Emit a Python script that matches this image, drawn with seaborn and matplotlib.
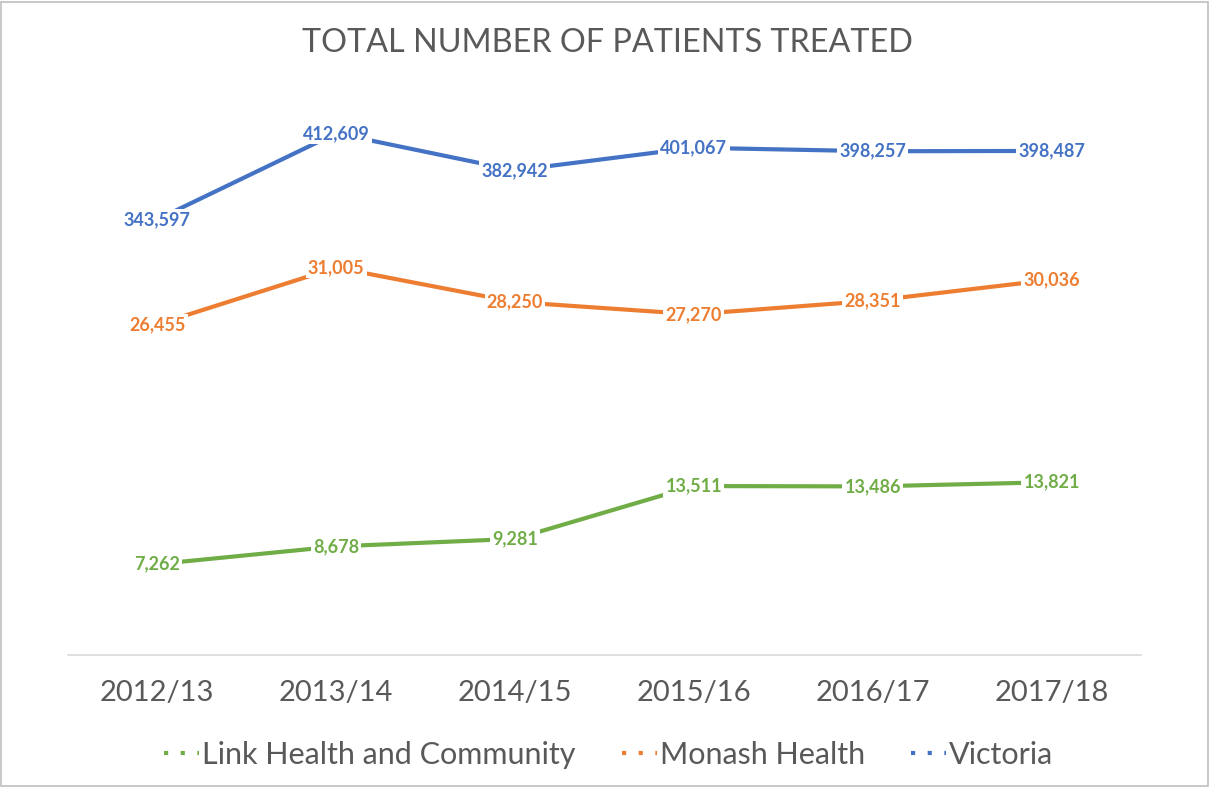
import matplotlib
matplotlib.use("Agg")
import matplotlib.pyplot as plt
from matplotlib.lines import Line2D
from matplotlib.patches import Rectangle
import seaborn as sns

# ---- data ----
years = ["2012/13", "2013/14", "2014/15", "2015/16", "2016/17", "2017/18"]
link = [7262, 8678, 9281, 13511, 13486, 13821]
monash = [26455, 31005, 28250, 27270, 28351, 30036]
victoria = [343597, 412609, 382942, 401067, 398257, 398487]

GREEN = "#70AD47"
ORANGE = "#ED7D31"
BLUE = "#4472C4"
GREY = "#595959"

sns.set_style("white")
plt.rcParams["font.family"] = ["Lato", "DejaVu Sans"]

fig = plt.figure(figsize=(12.1, 7.87), dpi=100)
ax = fig.add_axes([0.056, 0.168, 0.887, 0.714])
ax2 = ax.twinx()

sns.lineplot(x=years, y=link, ax=ax, color=GREEN, linewidth=3, sort=False)
sns.lineplot(x=years, y=monash, ax=ax, color=ORANGE, linewidth=3, sort=False)
# Victoria is on its own (secondary) scale
sns.lineplot(x=years, y=victoria, ax=ax2, color=BLUE, linewidth=3, sort=False)

ax.set_xlim(-0.5, 5.5)
ax.set_ylim(0, 45000)
ax2.set_ylim(-5000, 445000)

# data labels sit on the points with a white box
def add_labels(a, vals, col):
    for i, v in enumerate(vals):
        a.text(i, v, f"{v:,}", ha="center", va="center", color=col,
               fontsize=13, fontweight="bold",
               bbox=dict(facecolor="white", edgecolor="none", pad=1.5))

add_labels(ax, link, GREEN)
add_labels(ax, monash, ORANGE)
add_labels(ax2, victoria, BLUE)

for a in (ax, ax2):
    a.set_yticks([])
    a.set_ylabel("")
    for s in ["top", "left", "right", "bottom"]:
        a.spines[s].set_visible(False)
ax.spines["bottom"].set_visible(True)
ax.spines["bottom"].set_color("#d9d9d9")
ax.spines["bottom"].set_linewidth(1.2)

ax.tick_params(axis="x", length=0, pad=18, labelsize=21, labelcolor=GREY)

fig.text(0.502, 0.945, "TOTAL NUMBER OF PATIENTS TREATED", ha="center", va="center",
         fontsize=23.3, color=GREY)

handles = [
    Line2D([], [], color=GREEN, lw=3, linestyle=(0, (1, 3))),
    Line2D([], [], color=ORANGE, lw=3, linestyle=(0, (1, 3))),
    Line2D([], [], color=BLUE, lw=3, linestyle=(0, (1, 3))),
]
fig.legend(handles, ["Link Health and Community", "Monash Health", "Victoria"],
           loc="center", bbox_to_anchor=(0.503, 0.041), ncol=3, frameon=False,
           fontsize=22, labelcolor=GREY, handlelength=1.15, handletextpad=0.1,
           columnspacing=1.5)

# light frame around the chart
fig.add_artist(Rectangle((0.001, 0.001), 0.997, 0.997, transform=fig.transFigure,
                         fill=False, edgecolor="#bfbfbf", linewidth=1.2))

fig.savefig("out.png", dpi=100)
